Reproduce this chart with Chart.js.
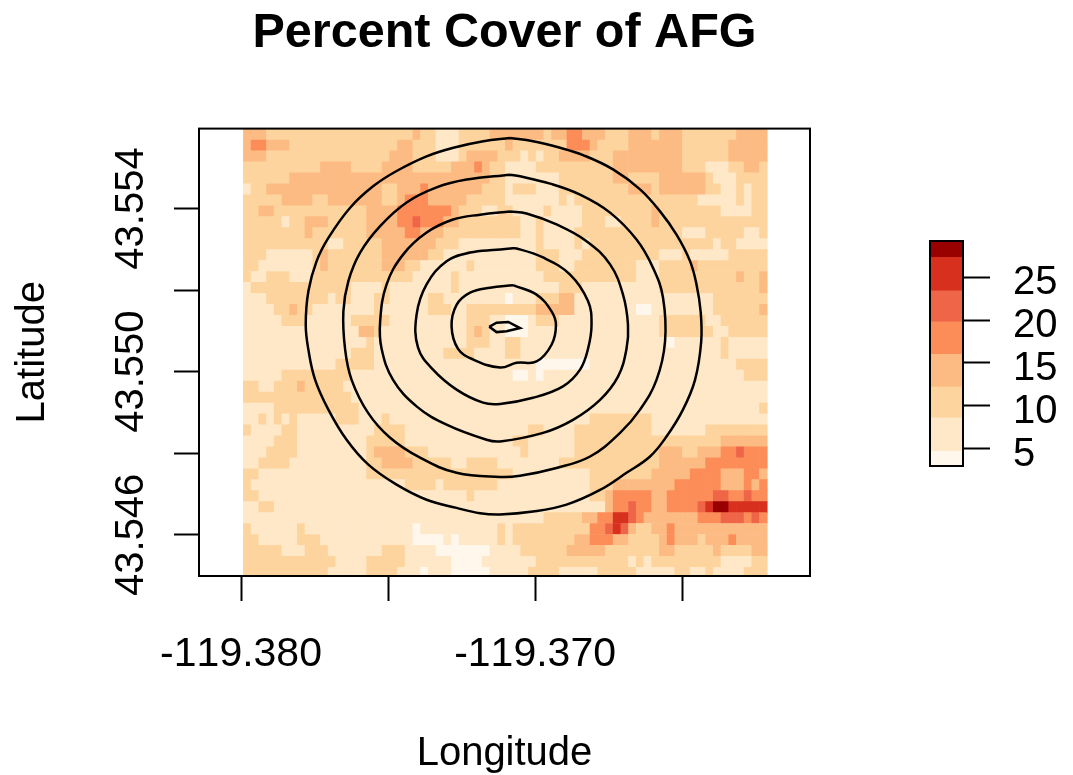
<!DOCTYPE html>
<html>
<head>
<meta charset="utf-8">
<title>Percent Cover of AFG</title>
<script src="https://cdn.jsdelivr.net/npm/chart.js@4"></script>
<style>
    body { margin: 0; background: #fff; }
    #mapChart { position: absolute; left: 0; top: 0; }
    #keyChart { position: absolute; left: 900px; top: 220px; }
</style>
</head>
<body>
<canvas id="mapChart" width="1009" height="775"></canvas>
<canvas id="keyChart" width="173" height="266"></canvas>
<script>
const FONT = "'Liberation Sans', Arial, sans-serif";

// OrRd colour classes and where they break on the colour key
const classColors = ['#FFF7EC', '#FEE8C8', '#FDD49E', '#FDBB84', '#FC8D59', '#EF6548', '#D7301F', '#990000'];
const classBreaks = [3.0, 4.7, 8.6, 12.2, 16.0, 19.8, 23.4, 27.3, 29.2];
const keyTicks = [5, 10, 15, 20, 25];

const xTicks = [-119.380, -119.375, -119.370, -119.365];
const xTickLabels = ['-119.380', '', '-119.370', ''];
const yTicks = [43.546, 43.548, 43.550, 43.552, 43.554];
const yTickLabels = ['43.546', '', '43.550', '', '43.554'];

// raster grid
const lonStart = -119.37992;
const lonStep = 0.000262;
const latTop = 43.55595;
const latStep = 0.0002687;

// one row per latitude, top down, as pairs: colour class, number of cells
const rasterRuns = [
    [3,3, 2,19, 3,1, 2,2, 1,3, 2,4, 3,2, 3,5, 2,1, 3,2, 4,2, 3,3, 2,3, 3,3, 2,1, 3,3, 2,7, 3,4],
    [3,1, 4,2, 3,3, 2,14, 3,2, 2,3, 1,3, 2,6, 3,1, 2,7, 4,3, 3,1, 2,4, 3,7, 2,6, 3,5],
    [3,3, 2,16, 3,3, 2,3, 1,3, 2,1, 3,4, 2,1, 2,2, 1,1, 2,1, 1,1, 2,2, 3,4, 2,3, 3,9, 2,6, 3,5],
    [2,10, 3,4, 2,4, 3,4, 2,5, 3,3, 4,1, 3,1, 2,2, 1,4, 2,10, 3,9, 2,3, 1,3, 2,2, 3,2, 2,1],
    [2,6, 3,26, 2,2, 1,7, 2,7, 3,2, 2,4, 3,6, 2,1, 1,3, 2,4],
    [1,1, 2,2, 3,15, 2,2, 3,3, 4,1, 3,7, 2,3, 1,1, 2,3, 1,3, 2,9, 3,3, 2,1, 3,6, 2,2, 1,2, 2,1, 1,1, 2,2],
    [2,5, 3,4, 2,2, 3,7, 2,2, 3,1, 4,3, 3,5, 2,5, 1,7, 2,1, 1,1, 2,16, 1,5, 2,1, 1,1, 2,2],
    [2,2, 3,2, 2,12, 3,4, 4,7, 3,1, 2,3, 1,2, 2,1, 2,1, 1,4, 2,1, 1,4, 2,9, 3,1, 2,8, 1,4, 2,2],
    [2,5, 1,1, 2,2, 3,3, 2,5, 3,4, 4,2, 5,1, 4,3, 3,2, 2,6, 2,2, 1,2, 2,1, 1,5, 2,3, 1,2, 2,4, 3,1, 2,14],
    [2,8, 3,1, 2,7, 3,5, 4,2, 3,3, 2,8, 2,2, 1,2, 2,1, 1,4, 2,14, 1,3, 2,5, 1,2, 2,1],
    [2,11, 1,2, 2,5, 3,7, 2,3, 1,6, 1,4, 2,1, 1,4, 2,1, 1,1, 2,16, 1,1, 2,2, 1,4],
    [2,3, 1,6, 2,1, 3,1, 2,7, 3,6, 2,2, 1,8, 1,4, 2,3, 1,3, 2,10, 1,3, 2,1, 1,5, 2,5],
    [2,2, 1,7, 2,1, 3,1, 2,7, 3,3, 2,2, 1,6, 2,1, 1,4, 1,4, 2,3, 1,2, 2,8, 1,3, 2,4, 3,1, 2,9],
    [2,1, 1,2, 2,3, 1,3, 2,13, 1,5, 2,1, 1,6, 1,5, 2,12, 1,3, 2,10, 3,1, 2,2, 3,1],
    [1,1, 2,13, 1,4, 2,1, 1,8, 2,1, 1,6, 1,7, 2,3, 1,10, 2,13, 3,1],
    [1,3, 2,8, 1,1, 2,2, 1,3, 2,2, 1,5, 2,2, 1,8, 0,1, 1,3, 2,3, 3,2, 1,18, 2,7],
    [1,4, 2,2, 3,1, 2,2, 1,8, 2,1, 1,6, 2,3, 1,2, 2,5, 2,4, 3,5, 1,8, 0,2, 1,8, 2,6, 3,1],
    [1,5, 2,3, 1,6, 2,5, 1,10, 2,3, 1,2, 0,3, 1,1, 2,3, 1,13, 2,6, 1,2, 2,6],
    [1,15, 3,2, 2,1, 1,11, 2,1, 3,1, 2,1, 1,2, 0,3, 1,17, 2,7, 1,2, 2,5],
    [1,16, 2,1, 1,12, 2,3, 1,2, 2,2, 1,19, 0,1, 1,6, 2,1, 1,5],
    [1,14, 2,3, 1,9, 2,4, 1,4, 2,2, 1,26, 2,1, 1,5],
    [1,12, 2,5, 1,17, 1,4, 0,7, 1,19, 2,4],
    [1,5, 2,9, 1,20, 1,1, 0,2, 1,1, 0,1, 1,26, 2,3],
    [2,2, 1,2, 2,3, 3,1, 2,5, 1,21, 1,34],
    [2,14, 1,20, 1,34],
    [1,4, 2,11, 1,19, 1,33, 2,1],
    [1,2, 2,1, 1,1, 2,1, 1,1, 2,1, 1,5, 2,3, 1,3, 2,1, 1,15, 1,11, 2,8, 1,15],
    [2,1, 1,4, 2,2, 1,10, 2,4, 1,13, 1,3, 2,2, 1,4, 2,10, 1,7, 2,8],
    [1,4, 2,3, 1,9, 2,5, 1,13, 1,1, 2,2, 1,6, 2,19, 3,6],
    [1,3, 2,4, 1,9, 2,1, 3,4, 2,3, 1,10, 1,2, 2,1, 1,6, 2,11, 3,3, 2,2, 3,3, 4,2, 5,1, 4,3],
    [1,2, 2,4, 1,10, 2,2, 3,4, 2,5, 1,2, 2,4, 1,1, 1,7, 2,13, 3,6, 4,8],
    [2,2, 1,14, 2,18, 2,1, 1,10, 2,8, 3,5, 4,4, 3,3, 4,2, 3,1],
    [2,1, 1,20, 2,4, 1,1, 2,7, 1,1, 1,11, 2,3, 3,8, 4,6, 3,3, 4,1, 3,1, 4,1],
    [2,2, 1,27, 2,1, 1,4, 1,11, 2,2, 3,1, 4,5, 3,2, 4,6, 5,2, 4,2, 5,1, 4,2],
    [1,2, 2,2, 1,30, 1,13, 3,1, 4,2, 5,1, 4,2, 3,2, 4,4, 5,1, 6,1, 7,2, 6,5],
    [1,34, 1,5, 2,5, 3,2, 4,2, 6,2, 5,1, 4,1, 3,7, 4,3, 5,3, 4,1, 5,1, 4,1],
    [2,1, 1,6, 2,1, 1,14, 0,1, 1,10, 2,1, 1,1, 2,10, 4,2, 5,1, 6,1, 5,1, 3,1, 2,2, 3,2, 4,1, 3,12],
    [2,2, 1,5, 2,3, 1,12, 0,4, 1,1, 0,1, 1,5, 2,1, 1,1, 2,8, 3,2, 4,3, 3,2, 2,4, 3,1, 4,1, 3,3, 2,1, 3,3, 4,1, 3,4],
    [2,5, 1,3, 2,3, 1,7, 2,3, 1,4, 0,7, 1,2, 1,2, 2,6, 3,5, 2,7, 3,2, 2,5, 3,1, 2,4, 3,2],
    [2,12, 1,4, 2,5, 1,6, 0,4, 1,3, 1,4, 2,12, 1,1, 2,1, 1,1, 2,9, 1,4, 2,2],
    [2,11, 1,5, 2,4, 1,3, 0,1, 1,3, 0,5, 1,2, 1,3, 2,4, 1,5, 2,5, 1,5, 2,2, 1,2, 2,1, 1,4, 2,3]
];

// contour rings, read clockwise from the top
const ring1Lon = [-119.37085,-119.37007,-119.36915,-119.36837,-119.36735,-119.36643,-119.36575,-119.36519,-119.36473,-119.36451,-119.36437,-119.36435,-119.36456,-119.36497,-119.36553,-119.36609,-119.36689,-119.36779,-119.36893,-119.37007,-119.37119,-119.37187,-119.37267,-119.37369,-119.37471,-119.37567,-119.37641,-119.37703,-119.37748,-119.37771,-119.37780,-119.37771,-119.37743,-119.37703,-119.37629,-119.37550,-119.37471,-119.37369,-119.37278,-119.37176];
const ring1Lat = [43.55573,43.55565,43.55549,43.55531,43.55496,43.55447,43.55393,43.55336,43.55271,43.55214,43.55148,43.55074,43.54980,43.54907,43.54841,43.54792,43.54752,43.54710,43.54674,43.54657,43.54650,43.54653,43.54666,43.54686,43.54723,43.54772,43.54833,43.54907,43.54980,43.55054,43.55115,43.55197,43.55271,43.55328,43.55402,43.55455,43.55492,43.55528,43.55549,43.55565];
const ring2Lon = [-119.37085,-119.37051,-119.36949,-119.36847,-119.36745,-119.36655,-119.36599,-119.36565,-119.36558,-119.36587,-119.36643,-119.36711,-119.36813,-119.36927,-119.37051,-119.37119,-119.37267,-119.37391,-119.37493,-119.37568,-119.37624,-119.37646,-119.37652,-119.37635,-119.37595,-119.37527,-119.37437,-119.37335,-119.37233];
const ring2Lat = [43.55483,43.55479,43.55461,43.55434,43.55390,43.55324,43.55255,43.55182,43.55074,43.54980,43.54907,43.54850,43.54792,43.54764,43.54745,43.54742,43.54752,43.54789,43.54838,43.54899,43.54980,43.55054,43.55148,43.55222,43.55292,43.55357,43.55415,43.55452,43.55471];
const ring3Lon = [-119.37085,-119.37029,-119.36927,-119.36825,-119.36745,-119.36701,-119.36684,-119.36689,-119.36718,-119.36779,-119.36871,-119.36973,-119.37119,-119.37165,-119.37301,-119.37403,-119.37483,-119.37522,-119.37527,-119.37505,-119.37449,-119.37369,-119.37279,-119.37187];
const ring3Lat = [43.55393,43.55388,43.55361,43.55320,43.55263,43.55189,43.55115,43.55056,43.54988,43.54931,43.54882,43.54850,43.54829,43.54833,43.54870,43.54915,43.54980,43.55056,43.55123,43.55214,43.55287,43.55341,43.55373,43.55385];
const ring4Lon = [-119.37085,-119.37063,-119.36973,-119.36881,-119.36820,-119.36808,-119.36820,-119.36847,-119.36905,-119.37007,-119.37119,-119.37177,-119.37267,-119.37347,-119.37398,-119.37403,-119.37369,-119.37301,-119.37221,-119.37131];
const ring4Lat = [43.55302,43.55302,43.55280,43.55238,43.55173,43.55115,43.55056,43.55005,43.54964,43.54936,43.54921,43.54924,43.54956,43.55005,43.55059,43.55140,43.55214,43.55271,43.55292,43.55299];
const ring5Lon = [-119.37075,-119.36995,-119.36944,-119.36929,-119.36944,-119.36995,-119.37063,-119.37119,-119.37211,-119.37262,-119.37284,-119.37267,-119.37221,-119.37153];
const ring5Lat = [43.55212,43.55189,43.55148,43.55115,43.55066,43.55025,43.55022,43.55010,43.55030,43.55056,43.55111,43.55164,43.55194,43.55206];
const ring6Lon = [-119.37156,-119.37131,-119.37091,-119.37051,-119.37097,-119.37131];
const ring6Lat = [43.55110,43.55120,43.55122,43.55107,43.55099,43.55097];

const rings = [[ring1Lon, ring1Lat], [ring2Lon, ring2Lat], [ring3Lon, ring3Lat], [ring4Lon, ring4Lat], [ring5Lon, ring5Lat], [ring6Lon, ring6Lat]];

const cells = [];
const cellColors = [];
rasterRuns.forEach((runs, row) => {
    let col = 0;
    for (let i = 0; i < runs.length; i += 2) {
        for (let n = 0; n < runs[i + 1]; n++) {
            cells.push({
                x: lonStart + (col + 0.5) * lonStep,
                y: [latTop - (row + 1) * latStep, latTop - row * latStep]
            });
            cellColors.push(classColors[runs[i]]);
            col++;
        }
    }
});

const contourSets = rings.map(([lons, lats], idx) => {
    const pts = lons.map((lon, i) => ({ x: lon, y: lats[i] }));
    pts.push(pts[0]); // close the ring
    return {
        type: 'scatter',
        data: pts,
        showLine: true,
        borderColor: '#000',
        borderWidth: 2.5,
        tension: idx === 5 ? 0 : 0.4,
        pointRadius: 0,
        order: 1
    };
});

// R style box round the plot region, and no kerning in the labels
const boxPlugin = {
    id: 'box',
    beforeDraw(chart) {
        chart.ctx.fontKerning = 'none';
    },
    afterDatasetsDraw(chart) {
        const { ctx, chartArea } = chart;
        ctx.save();
        ctx.strokeStyle = '#000';
        ctx.lineWidth = 2;
        ctx.strokeRect(chartArea.left, chartArea.top, chartArea.right - chartArea.left, chartArea.bottom - chartArea.top);
        ctx.restore();
    }
};

new Chart(document.getElementById('mapChart').getContext('2d'), {
    type: 'bar',
    data: {
        datasets: [{
            data: cells,
            backgroundColor: cellColors,
            barPercentage: 1,
            categoryPercentage: 1,
            order: 2
        }, ...contourSets]
    },
    options: {
        responsive: false,
        animation: false,
        events: [],
        layout: { padding: { left: 0, right: 199, top: 0, bottom: 0 } },
        scales: {
            x: {
                type: 'linear',
                offset: false,
                min: -119.38143,
                max: -119.36065,
                afterBuildTicks: (scale) => { scale.ticks = xTicks.map(v => ({ value: v })); },
                afterFit: (scale) => { scale.height = 199; },
                border: { display: false },
                grid: { offset: false, drawOnChartArea: false, tickLength: 25, tickWidth: 2, tickColor: '#000' },
                ticks: {
                    autoSkip: false,
                    maxRotation: 0,
                    minRotation: 0,
                    color: '#000',
                    padding: 29,
                    font: { family: FONT, size: 41 },
                    callback: (value, index) => xTickLabels[index]
                },
                title: {
                    display: true,
                    text: 'Longitude',
                    color: '#000',
                    font: { family: FONT, size: 40 },
                    padding: { top: 0, bottom: -3 }
                }
            },
            y: {
                type: 'linear',
                min: 43.54499,
                max: 43.55596,
                afterBuildTicks: (scale) => { scale.ticks = yTicks.map(v => ({ value: v })); },
                afterFit: (scale) => { scale.width = 199; },
                border: { display: false },
                grid: { drawOnChartArea: false, tickLength: 25, tickWidth: 2, tickColor: '#000' },
                ticks: {
                    autoSkip: false,
                    minRotation: 90,
                    maxRotation: 90,
                    crossAlign: 'center',
                    color: '#000',
                    padding: -19,
                    font: { family: FONT, size: 40 },
                    callback: (value, index) => yTickLabels[index]
                },
                title: {
                    display: true,
                    text: 'Latitude',
                    color: '#000',
                    font: { family: FONT, size: 40 },
                    padding: { top: 9, bottom: 0 }
                }
            }
        },
        plugins: {
            legend: { display: false },
            tooltip: { enabled: false },
            title: {
                display: true,
                fullSize: false,
                text: 'Percent Cover of AFG',
                color: '#000',
                font: { family: FONT, size: 48.5, weight: 'bold' },
                padding: { top: 5, bottom: 65.4 }
            }
        }
    },
    plugins: [boxPlugin]
});

const keySets = classColors.map((color, i) => ({
    data: [[classBreaks[i], classBreaks[i + 1]]],
    backgroundColor: color,
    barPercentage: 1,
    categoryPercentage: 1,
    grouped: false
}));

new Chart(document.getElementById('keyChart').getContext('2d'), {
    type: 'bar',
    data: { labels: [''], datasets: keySets },
    options: {
        responsive: false,
        animation: false,
        events: [],
        layout: { padding: { left: 30, right: 0, top: 21, bottom: 20 } },
        scales: {
            x: { display: false },
            y: {
                position: 'right',
                min: classBreaks[0],
                max: classBreaks[classBreaks.length - 1],
                afterBuildTicks: (scale) => { scale.ticks = keyTicks.map(v => ({ value: v })); },
                afterFit: (scale) => {
                    scale.width = 110;
                    scale.paddingTop = 0;
                    scale.paddingBottom = 0;
                },
                border: { display: false },
                grid: { drawOnChartArea: false, tickLength: 27, tickWidth: 2, tickColor: '#000' },
                ticks: {
                    color: '#000',
                    padding: 23,
                    font: { family: FONT, size: 40, lineHeight: 0.3 },
                    // blank first line pushes the number a little below its tick, as R does
                    callback: (value) => ['', String(value)]
                }
            }
        },
        plugins: {
            legend: { display: false },
            tooltip: { enabled: false }
        }
    },
    plugins: [boxPlugin]
});
</script>
</body>
</html>
